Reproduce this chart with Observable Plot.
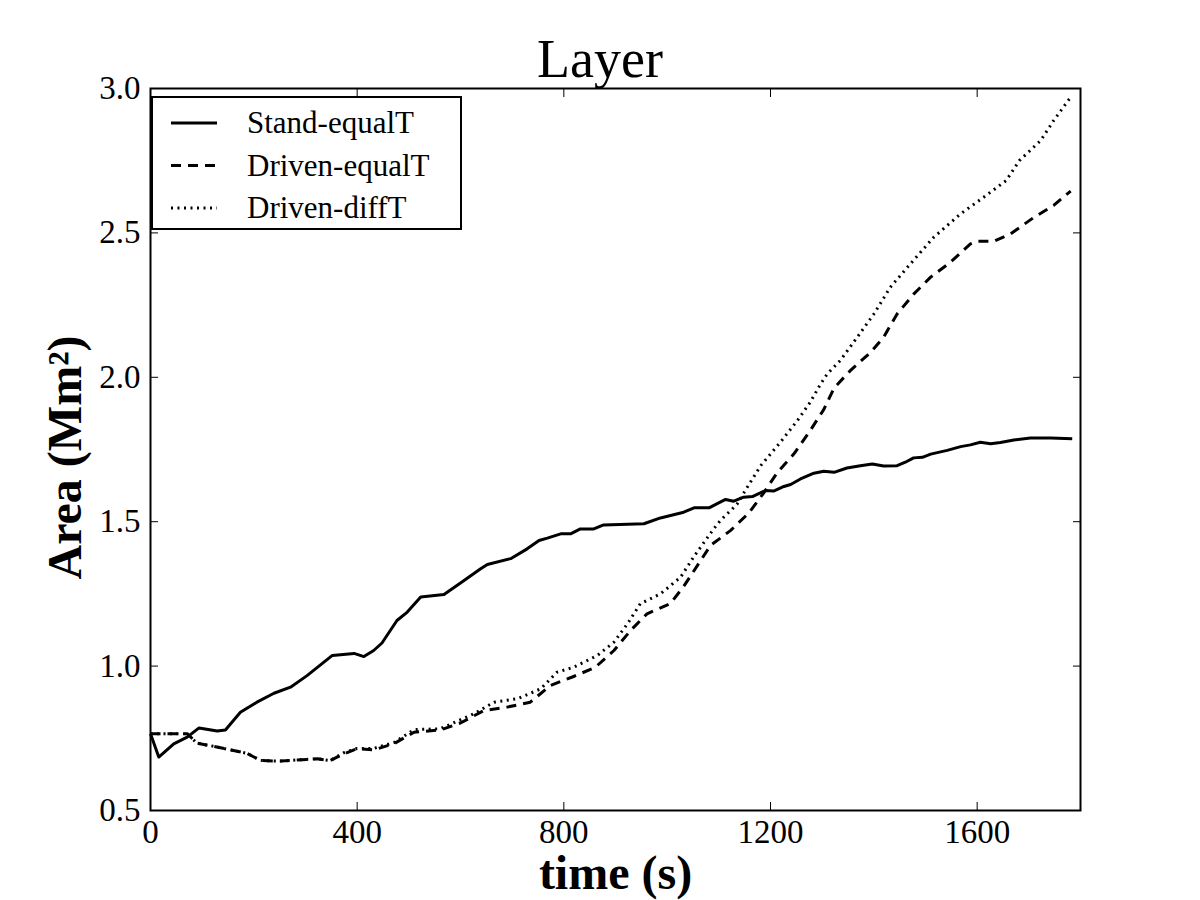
<!DOCTYPE html>
<html>
<head>
<meta charset="utf-8">
<script src="https://cdn.jsdelivr.net/npm/d3@7"></script>
<script src="https://cdn.jsdelivr.net/npm/@observablehq/plot@0.6"></script>
<style>
  html, body { margin: 0; padding: 0; background: #fff; }
  #fig { position: relative; width: 1200px; height: 900px; font-family: "Liberation Serif", serif; }
  #title { position: relative; height: 80px; }
  #title span { position: absolute; left: 0; right: 0; top: 32px; text-align: center; font-size: 54px; line-height: 54px; }
  #legend { position: absolute; left: 151px; top: 96px; }
</style>
</head>
<body>
<div id="fig">
  <div id="title"><span>Layer</span></div>
  <div id="chart"></div>
  <div id="legend"></div>
</div>
<script>
// Emerged flux area in the layer versus time for three runs
const seriesNames = ["Stand-equalT", "Driven-equalT", "Driven-diffT"];

const standTime = [0, 16, 45, 71, 94, 129, 145, 174, 206, 239, 271, 303, 352, 394, 413, 432, 448, 477, 497, 523, 568, 600, 639, 652, 697, 729, 752, 768, 794, 813, 832, 858, 877, 955, 987, 1032, 1052, 1081, 1113, 1129, 1148, 1165, 1190, 1206, 1226, 1239, 1258, 1284, 1303, 1323, 1348, 1374, 1397, 1419, 1445, 1461, 1477, 1494, 1510, 1542, 1568, 1587, 1606, 1626, 1645, 1671, 1703, 1742, 1784];
const standArea = [0.766, 0.685, 0.731, 0.754, 0.786, 0.775, 0.779, 0.840, 0.875, 0.906, 0.927, 0.967, 1.037, 1.044, 1.033, 1.054, 1.080, 1.158, 1.187, 1.239, 1.248, 1.288, 1.337, 1.352, 1.372, 1.406, 1.435, 1.443, 1.458, 1.458, 1.475, 1.475, 1.489, 1.493, 1.513, 1.533, 1.548, 1.548, 1.577, 1.571, 1.585, 1.587, 1.608, 1.606, 1.622, 1.629, 1.648, 1.668, 1.675, 1.671, 1.686, 1.694, 1.700, 1.693, 1.694, 1.706, 1.721, 1.723, 1.734, 1.747, 1.760, 1.766, 1.775, 1.770, 1.774, 1.783, 1.790, 1.790, 1.787];

const drivenEqualTime = [0, 71, 90, 123, 155, 187, 213, 252, 284, 323, 348, 374, 400, 432, 471, 510, 561, 600, 645, 690, 735, 774, 819, 861, 897, 929, 961, 1006, 1032, 1065, 1084, 1123, 1158, 1187, 1213, 1245, 1277, 1303, 1323, 1355, 1394, 1419, 1445, 1477, 1510, 1548, 1587, 1600, 1632, 1665, 1710, 1748, 1781];
const drivenEqualArea = [0.766, 0.766, 0.733, 0.722, 0.710, 0.698, 0.673, 0.671, 0.675, 0.679, 0.673, 0.696, 0.714, 0.710, 0.731, 0.771, 0.779, 0.803, 0.846, 0.858, 0.875, 0.933, 0.964, 0.996, 1.054, 1.123, 1.181, 1.216, 1.276, 1.366, 1.418, 1.470, 1.530, 1.600, 1.670, 1.734, 1.816, 1.888, 1.963, 2.024, 2.087, 2.139, 2.219, 2.288, 2.347, 2.398, 2.462, 2.471, 2.471, 2.497, 2.554, 2.595, 2.645];

const drivenDiffTime = [0, 71, 90, 123, 155, 187, 213, 252, 284, 323, 348, 374, 400, 432, 471, 510, 561, 626, 665, 710, 755, 787, 819, 865, 897, 923, 948, 987, 1026, 1052, 1090, 1103, 1135, 1155, 1181, 1219, 1252, 1277, 1297, 1310, 1335, 1368, 1400, 1432, 1465, 1516, 1568, 1613, 1656, 1682, 1723, 1748, 1781];
const drivenDiffArea = [0.766, 0.766, 0.733, 0.722, 0.710, 0.698, 0.673, 0.671, 0.675, 0.679, 0.673, 0.700, 0.715, 0.715, 0.735, 0.780, 0.783, 0.835, 0.875, 0.887, 0.921, 0.979, 0.996, 1.037, 1.083, 1.146, 1.216, 1.250, 1.308, 1.380, 1.475, 1.504, 1.560, 1.619, 1.694, 1.775, 1.850, 1.914, 1.977, 2.012, 2.058, 2.139, 2.219, 2.312, 2.381, 2.485, 2.566, 2.624, 2.681, 2.751, 2.820, 2.889, 2.970];

const xTicks = [0, 400, 800, 1200, 1600];
const yTicks = [0.5, 1.0, 1.5, 2.0, 2.5, 3.0];

// line style per series: solid, dashed, dotted
const dashes = {"Stand-equalT": null, "Driven-equalT": "10,7", "Driven-diffT": "2,4.5"};

const toRows = (name, ts, vs) => ts.map((t, i) => ({series: name, t, area: vs[i]}));
const rows = [
  ...toRows(seriesNames[0], standTime, standArea),
  ...toRows(seriesNames[1], drivenEqualTime, drivenEqualArea),
  ...toRows(seriesNames[2], drivenDiffTime, drivenDiffArea)
];

const fmtY = d3.format(".1f");
const tickOpts = {tickSize: -8, tickFormat: () => "", label: null, stroke: "black", strokeWidth: 1};

const chart = Plot.plot({
  width: 1200,
  height: 820,
  marginTop: 8,
  marginBottom: 90,
  marginLeft: 150,
  marginRight: 120,
  style: {fontFamily: "Liberation Serif, serif", background: "white", color: "black", overflow: "visible"},
  x: {domain: [0, 1800]},
  y: {domain: [0.5, 3.0]},
  marks: [
    // tick labels
    Plot.axisX({ticks: xTicks, tickSize: 0, tickPadding: 9, fontSize: 33, tickFormat: d => String(d), label: null}),
    Plot.axisY({ticks: yTicks, tickSize: 0, tickPadding: 10, fontSize: 33, tickFormat: fmtY, label: null}),
    // inward ticks on all four sides
    Plot.axisX({...tickOpts, ticks: xTicks, anchor: "bottom"}),
    Plot.axisX({...tickOpts, ticks: xTicks, anchor: "top"}),
    Plot.axisY({...tickOpts, ticks: yTicks, anchor: "left"}),
    Plot.axisY({...tickOpts, ticks: yTicks, anchor: "right"}),
    // data lines
    ...seriesNames.map(name => Plot.line(rows.filter(r => r.series === name), {
      x: "t", y: "area", stroke: "black", strokeWidth: 3,
      strokeDasharray: dashes[name], strokeLinecap: "butt", strokeLinejoin: "round"
    })),
    Plot.frame({stroke: "black", strokeWidth: 2}),
    // axis titles
    Plot.text(["time (s)"], {frameAnchor: "bottom", textAnchor: "middle", lineAnchor: "middle", dy: 63, fontSize: 48, fontWeight: "bold", fill: "black"}),
    Plot.text(["Area (Mm²)"], {frameAnchor: "left", textAnchor: "middle", lineAnchor: "middle", rotate: -90, dx: -85, dy: 8, fontSize: 48, fontWeight: "bold", fill: "black"})
  ]
});
document.getElementById("chart").appendChild(chart);

// legend box in the upper left of the axes
const lg = d3.select("#legend").append("svg").attr("width", 312).attr("height", 136);
lg.append("rect").attr("x", 1).attr("y", 1).attr("width", 309).attr("height", 132)
  .attr("fill", "white").attr("stroke", "black").attr("stroke-width", 2);
seriesNames.forEach((name, i) => {
  const y = 27 + i * 42.5;
  lg.append("line").attr("x1", 20).attr("x2", 66).attr("y1", y).attr("y2", y)
    .attr("stroke", "black").attr("stroke-width", 3)
    .attr("stroke-dasharray", dashes[name]);
  lg.append("text").attr("x", 96).attr("y", y + 10)
    .attr("font-family", "Liberation Serif, serif").attr("font-size", 31).text(name);
});
</script>
</body>
</html>
